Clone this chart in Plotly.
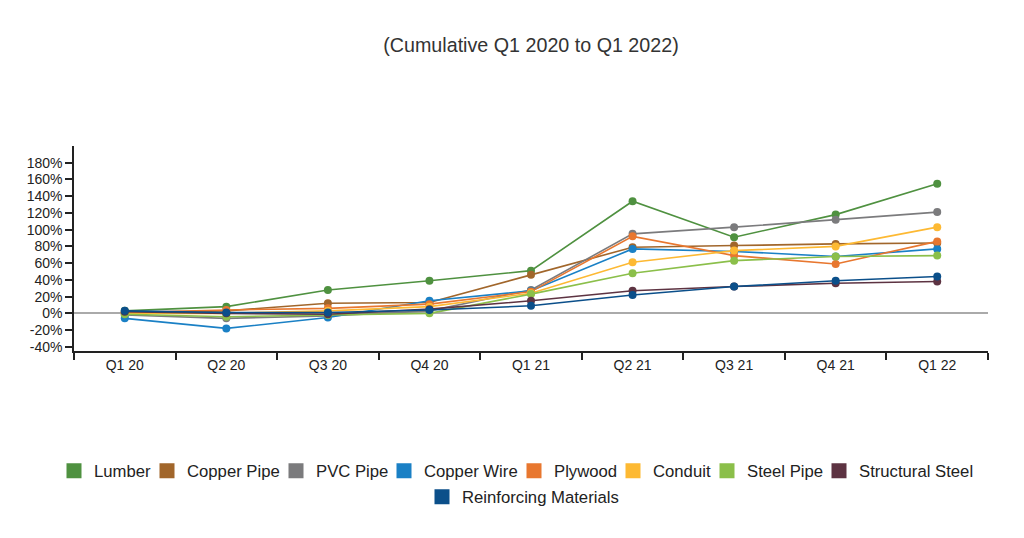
import plotly.graph_objects as go

quarters = ["Q1 20", "Q2 20", "Q3 20", "Q4 20", "Q1 21", "Q2 21", "Q3 21", "Q4 21", "Q1 22"]

lumber = [3, 8, 28, 39, 51, 134, 91, 118, 155]
copper_pipe = [1, 3, 12, 13, 46, 79, 81, 83, 84]
pvc_pipe = [-2, -6, -3, 3, 28, 95, 103, 112, 121]
copper_wire = [-6, -18, -5, 15, 27, 77, 74, 68, 77]
plywood = [1, 4, 6, 11, 26, 92, 69, 59, 86]
conduit = [0, 0, 3, 8, 24, 61, 75, 80, 103]
steel_pipe = [-1, -4, -2, 0, 23, 48, 63, 68, 69]
structural_steel = [2, 0, -1, 5, 15, 27, 32, 36, 38]
reinforcing = [3, 1, 1, 4, 9, 22, 32, 39, 44]

series_names = ["Lumber", "Copper Pipe", "PVC Pipe", "Copper Wire", "Plywood",
                "Conduit", "Steel Pipe", "Structural Steel", "Reinforcing Materials"]
series_values = [lumber, copper_pipe, pvc_pipe, copper_wire, plywood,
                 conduit, steel_pipe, structural_steel, reinforcing]
colors = ["#4f9140", "#a1662b", "#7b7b7d", "#1a80c5", "#e8772f",
          "#fdb933", "#8bbf4a", "#5d3342", "#0b4f8a"]

# legend text start positions (screen px) and row centres
legend_text_x = [93, 186, 315, 423, 553, 652, 746, 858, 461]
legend_row_y = [471, 471, 471, 471, 471, 471, 471, 471, 497]

PLOT_L, PLOT_W, PLOT_B, PLOT_H = 74, 914, 351, 205
OFF = 8  # page offset of the plot div

fig = go.Figure()
for name, vals, col in zip(series_names, series_values, colors):
    fig.add_trace(go.Scatter(
        x=quarters, y=vals, name=name, mode="lines+markers",
        line=dict(color=col, width=1.6),
        marker=dict(color=col, size=8, symbol="circle"),
        showlegend=False,
    ))

legends = {}
for i, (name, col) in enumerate(zip(series_names, colors)):
    key = "legend" if i == 0 else f"legend{i + 1}"
    fig.add_trace(go.Scatter(
        x=[None], y=[None], name=name, mode="markers",
        marker=dict(color=col, size=15, symbol="square"),
        showlegend=True, legend=key,
    ))
    legends[key] = dict(
        x=(legend_text_x[i] - 39 - PLOT_L) / PLOT_W, xanchor="left",
        y=(PLOT_B - legend_row_y[i]) / PLOT_H, yanchor="middle",
        orientation="h", font=dict(size=16.7, color="#222"),
        bgcolor="rgba(0,0,0,0)", borderwidth=0,
    )

fig.update_layout(
    width=1024, height=538,
    margin=dict(l=PLOT_L - OFF, r=1024 - (PLOT_L + PLOT_W) + OFF, t=146 - OFF, b=538 - PLOT_B + OFF),
    paper_bgcolor="white", plot_bgcolor="white",
    font=dict(family="Liberation Sans, Arial, sans-serif", color="#222", size=14),
    title=dict(text="(Cumulative Q1 2020 to Q1 2022)", x=0.5, xref="paper", xanchor="center",
               y=1 - 37 / 538, yanchor="middle", font=dict(size=19.7, color="#333")),
    showlegend=True,
    xaxis=dict(type="category", range=[-0.5, 8.5], showgrid=False, zeroline=False,
               showline=True, linecolor="#222", linewidth=1.5,
               ticks="outside", tickson="boundaries", ticklen=7, tickwidth=1.5,
               tickcolor="#222", tickfont=dict(size=14)),
    yaxis=dict(range=[-45, 200], tickvals=list(range(-40, 181, 20)),
               ticktext=[f"{v}%" for v in range(-40, 181, 20)],
               showgrid=False, zeroline=True, zerolinecolor="#aaaaaa", zerolinewidth=1.5,
               showline=True, linecolor="#222", linewidth=1.5,
               ticks="outside", ticklen=7, tickwidth=1.5, tickcolor="#222",
               tickfont=dict(size=14)),
    **legends,
)

fig.write_html("out.html")
